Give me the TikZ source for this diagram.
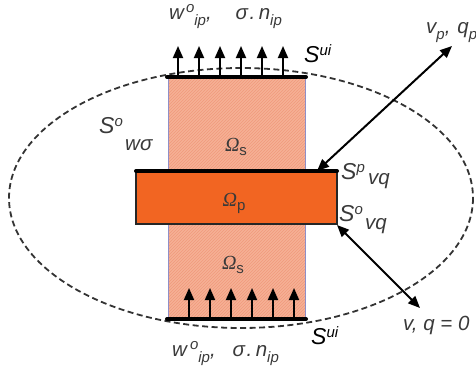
\documentclass[tikz,border=0pt]{standalone}
\usepackage{fontspec}
\setmainfont{Liberation Sans}
\newfontfamily\omegafont{Liberation Serif}
\usetikzlibrary{arrows.meta, patterns}
\definecolor{filmorange}{HTML}{F26522}
\definecolor{subsalmon}{HTML}{F6B096}
\definecolor{subhatch}{HTML}{F09A7C}
\definecolor{sidelilac}{HTML}{8F8FC8}
\definecolor{labelgray}{HTML}{3A3A3A}
\newcommand{\up}[1]{\raisebox{7pt}{\fontsize{15}{15}\selectfont #1}}
\newcommand{\dn}[1]{\raisebox{-6pt}{\fontsize{15}{15}\selectfont #1}}
\newcommand{\omegalabel}[1]{{\omegafont\itshape\char"03A9}\raisebox{-4pt}{\fontsize{15}{15}\selectfont #1}}
\tikzset{
  lbl/.style={font=\fontsize{20.5}{20.5}\selectfont\itshape, text=labelgray, inner sep=0pt},
  biglbl/.style={font=\fontsize{23}{23}\selectfont\itshape, text=labelgray, inner sep=0pt},
  omegalbl/.style={font=\fontsize{20}{20}\selectfont, text=labelgray, inner sep=0pt},
  bar/.style={line width=4pt, black, line cap=round},
  flux/.style={line width=1.8pt, -{Triangle[length=12pt,width=10pt]}},
  link/.style={line width=2pt, {Triangle[length=12pt,width=10pt]}-{Triangle[length=12pt,width=10pt]}},
}
\begin{document}
\begin{tikzpicture}[x=1pt,y=-1pt]
  \useasboundingbox (0,0) rectangle (476,373);

  % Substrate
  \fill[subsalmon] (168,77) rectangle (305,319);
  \fill[pattern=north east lines, pattern color=subhatch] (168,77) rectangle (305,319);
  \draw[sidelilac, line width=1pt] (168,77) -- (168,319);
  \draw[sidelilac, line width=1pt] (305,77) -- (305,319);

  % Boundary
  \draw[line width=1.8pt, dash pattern=on 6pt off 3.5pt, black!80] (241,198) ellipse [x radius=232, y radius=130];

  % Film
  \node[draw=black!85, line width=1.3pt, fill=filmorange, minimum width=201pt, minimum height=53pt, inner sep=0pt] (film) at (236.5,197.5) {};
  \draw[bar] (136,171) -- (337,171);
  \draw[bar] (167,77) -- (306,77);
  \draw[bar] (167,319) -- (306,319);

  % Arrows on the top and bottom faces
  \foreach \xpos in {178,199,220,241,262,283} {
    \draw[flux] (\xpos,77) -- (\xpos,46);
  }
  \foreach \xpos in {189,210,231,252,273,294} {
    \draw[flux] (\xpos,319) -- (\xpos,288);
  }

  % Links
  \coordinate (vpend) at (452,46);
  \coordinate (vpstart) at (317,171);
  \coordinate (vend) at (420,308);
  \coordinate (vstart) at (337,225);
  \draw[link] (vpstart) -- (vpend);
  \draw[link] (vstart) -- (vend);

  % Labels
  \node[lbl, anchor=west] (toplabel) at (169,17) {w\up{\hspace{2pt}o}\dn{ip},\hspace{24pt}σ\hspace{1.5pt}.\hspace{3.5pt}n\dn{ip}};
  \node[lbl, anchor=west] (botlabel) at (172,354) {w\up{\hspace{3pt}o}\dn{ip},\hspace{17pt}σ\hspace{1.5pt}.\hspace{3.5pt}n\dn{ip}};
  \node[biglbl, anchor=west, text=black] (suitop) at (304,54) {S\up{ui}};
  \node[biglbl, anchor=west, text=black] (suibot) at (311,336) {S\up{ui}};
  \node[lbl, anchor=west] (vplabel) at (426,33) {v\dn{p},\hspace{7pt}q\dn{p}};
  \node[lbl, anchor=west] (vlabel) at (403,325) {v, q = 0};
  \node[biglbl, anchor=west] (swlabel) at (99,126) {S\up{o}};
  \node[lbl, anchor=west] (swsub) at (125,145) {wσ};
  \node[biglbl, anchor=west] (splabel) at (341,172) {S\up{p}};
  \node[lbl, anchor=west] (spsub) at (368,181) {vq};
  \node[biglbl, anchor=west] (solabel) at (339,214) {S\up{o}};
  \node[lbl, anchor=west] (sosub) at (365,226) {vq};
  \node[omegalbl] (omegatop) at (236,147) {\omegalabel{s}};
  \node[omegalbl] (omegamid) at (234,203) {\omegalabel{p}};
  \node[omegalbl] (omegabot) at (233,265) {\omegalabel{s}};
\end{tikzpicture}
\end{document}
